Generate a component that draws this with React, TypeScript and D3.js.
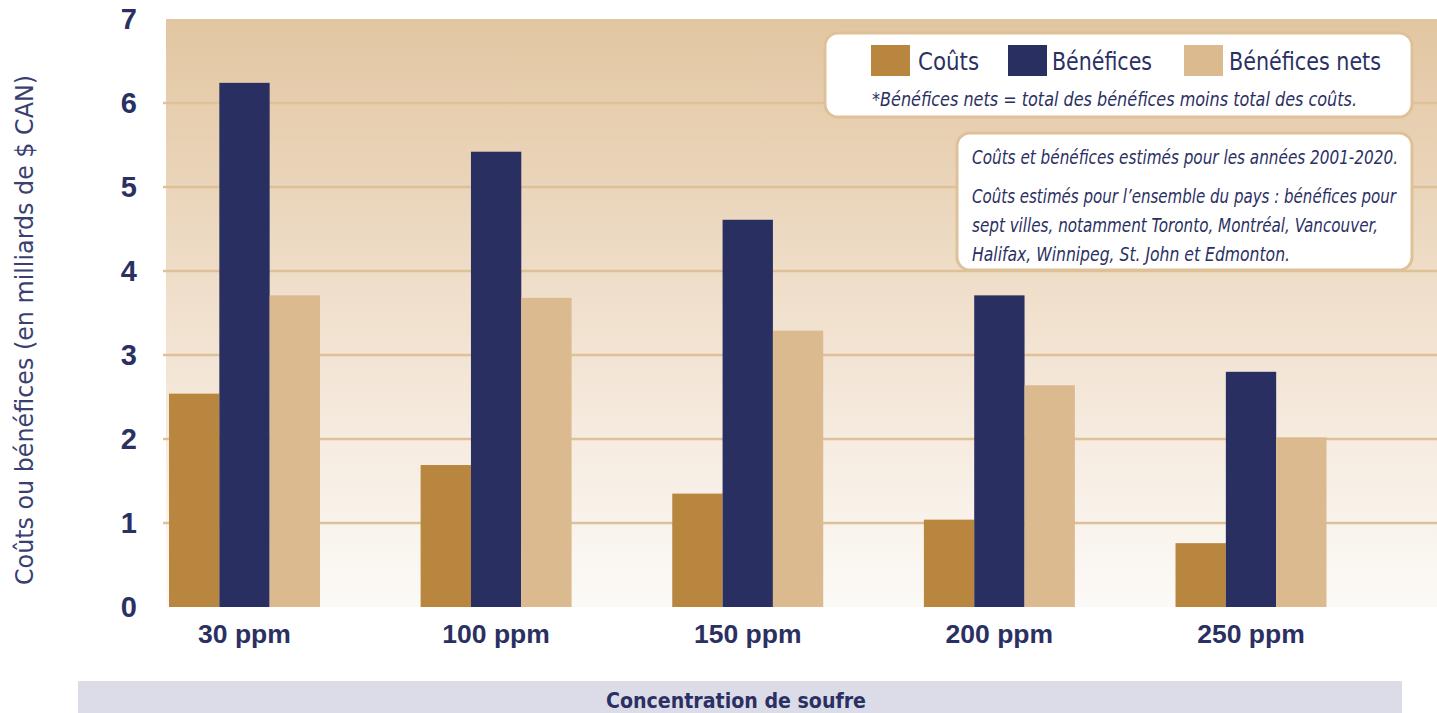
import React from "react";
import * as d3 from "d3";

const categories = ["30 ppm", "100 ppm", "150 ppm", "200 ppm", "250 ppm"];
const seriesNames = ["Coûts", "Bénéfices", "Bénéfices nets"];
const couts = [2.54, 1.69, 1.35, 1.04, 0.76];
const benefices = [6.24, 5.42, 4.61, 3.71, 2.8];
const beneficesNets = [3.71, 3.68, 3.29, 2.64, 2.02];
const yTicks = [0, 1, 2, 3, 4, 5, 6, 7];
const noteLines = [
  "Coûts et bénéfices estimés pour les années 2001-2020.",
  "Coûts estimés pour l’ensemble du pays : bénéfices pour",
  "sept villes, notamment Toronto, Montréal, Vancouver,",
  "Halifax, Winnipeg, St. John et Edmonton.",
];
const footnote = "*Bénéfices nets = total des bénéfices moins total des coûts.";
const yTitle = "Coûts ou bénéfices (en milliards de $ CAN)";
const xTitle = "Concentration de soufre";

const colors = ["#b8863e", "#2a2f61", "#dcba8f"];
const navy = "#2b3063";
const gridColor = "#dfc199";
const narrow = "'Liberation Sans Narrow', 'DejaVu Sans Condensed', 'Liberation Sans', sans-serif";
const sans = "'Liberation Sans', Arial, sans-serif";

export default function App() {
  const W = 1437;
  const H = 713;
  const y = d3.scaleLinear().domain([0, 7]).range([607, 19]);
  const x0 = d3.scaleBand<string>().domain(categories).range([169, 1326.5]).paddingInner(0.4).paddingOuter(0);
  const x1 = d3.scaleBand<string>().domain(seriesNames).range([0, x0.bandwidth()]);
  const series = [couts, benefices, beneficesNets];

  const legendItems = [
    { sx: 871, tx: 918, tw: 61 },
    { sx: 1008, tx: 1052, tw: 100 },
    { sx: 1184, tx: 1229, tw: 152 },
  ];
  const noteWidths = [426, 424, 406, 318];
  const noteBaselines = [164, 203, 232, 261];

  return (
    <svg width={W} height={H} style={{ display: "block", position: "absolute", left: 0, top: 0 }}>
      <defs>
        <linearGradient id="bg" x1="0" y1="0" x2="0" y2="1">
          <stop offset="0%" stopColor="#e2c6a1" />
          <stop offset="55%" stopColor="#f2e3d2" />
          <stop offset="100%" stopColor="#fcfaf7" />
        </linearGradient>
      </defs>
      <rect x={0} y={0} width={W} height={H} fill="#ffffff" />
      <rect x={166} y={y(7)} width={W - 166} height={y(0) - y(7)} fill="url(#bg)" />
      {yTicks.filter((t) => t > 0 && t < 7).map((t) => (
        <line key={t} x1={163} x2={W} y1={y(t)} y2={y(t)} stroke={gridColor} strokeWidth={2.5} />
      ))}
      {yTicks.map((t) => (
        <text key={"yt" + t} x={137} y={y(t)} dy="0.36em" textAnchor="end" fontFamily={sans} fontWeight={900}
          fontSize={29} fill={navy}>{t}</text>
      ))}
      {categories.map((c, i) => (
        <g key={c} transform={`translate(${x0(c)},0)`}>
          {series.map((s, j) => (
            <rect key={j} x={x1(seriesNames[j])} y={y(s[i])} width={x1.bandwidth()} height={y(0) - y(s[i])} fill={colors[j]} />
          ))}
          <text x={x0.bandwidth() / 2} y={643} textAnchor="middle" fontFamily={sans} fontWeight={700} fontSize={26.5} fill={navy}>{c}</text>
        </g>
      ))}
      <text transform="translate(33,330) rotate(-90)" textAnchor="middle" fontFamily={narrow} fontSize={24} fill="#3a3f70"
        textLength={510} lengthAdjust="spacingAndGlyphs">{yTitle}</text>
      <rect x={78} y={681} width={1324} height={32} fill="#dcdce8" />
      <text x={736} y={708} textAnchor="middle" fontFamily={narrow} fontWeight={700} fontSize={22} fill={navy}
        textLength={260} lengthAdjust="spacingAndGlyphs">{xTitle}</text>
      <rect x={825} y={33} width={587} height={84} rx={13} fill="#ffffff" stroke={gridColor} strokeWidth={3} />
      {seriesNames.map((n, j) => (
        <g key={n}>
          <rect x={legendItems[j].sx} y={45} width={39} height={31} fill={colors[j]} />
          <text x={legendItems[j].tx} y={70} fontFamily={narrow} fontSize={24} fill={navy}
            textLength={legendItems[j].tw} lengthAdjust="spacingAndGlyphs">{n}</text>
        </g>
      ))}
      <text x={872} y={106} fontFamily={narrow} fontStyle="italic" fontSize={20} fill={navy}
        textLength={485} lengthAdjust="spacingAndGlyphs">{footnote}</text>
      <rect x={957} y={133} width={455} height={137} rx={13} fill="#ffffff" stroke={gridColor} strokeWidth={3} />
      {noteLines.map((l, i) => (
        <text key={i} x={972} y={noteBaselines[i]} fontFamily={narrow} fontStyle="italic" fontSize={19} fill={navy}
          textLength={noteWidths[i]} lengthAdjust="spacingAndGlyphs">{l}</text>
      ))}
    </svg>
  );
}
